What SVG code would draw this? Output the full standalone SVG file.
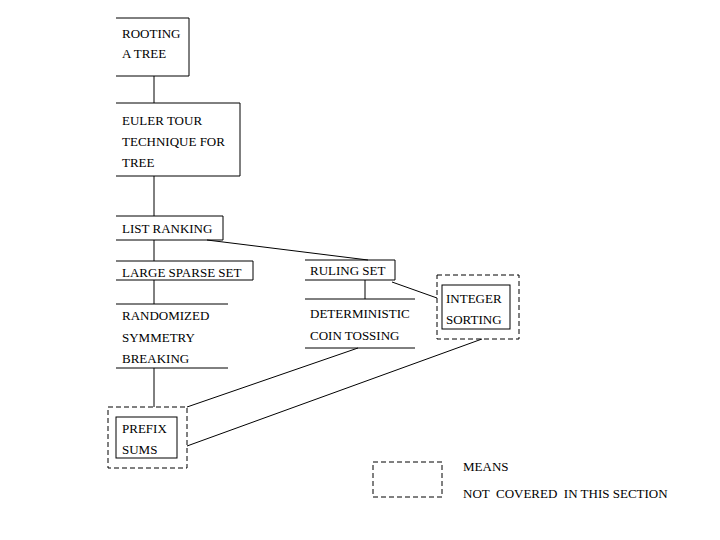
<svg xmlns="http://www.w3.org/2000/svg" width="720" height="540" viewBox="0 0 720 540">
<style>
  .box { fill: none; stroke: #000; stroke-width: 1; }
  .dash { fill: none; stroke: #000; stroke-width: 1; stroke-dasharray: 5 3; }
  .conn line { stroke: #000; stroke-width: 1; }
  text { font-family: "Liberation Serif", "Times New Roman", serif; font-size: 13px; fill: #000; }
</style>
<rect width="720" height="540" fill="#fff"/>
<g id="connectors" class="conn">
  <line x1="154" y1="76" x2="154" y2="103"/>
  <line x1="154" y1="176" x2="154" y2="216"/>
  <line x1="154" y1="240" x2="154" y2="261"/>
  <line x1="154" y1="280" x2="154" y2="304"/>
  <line x1="154" y1="368" x2="154" y2="407"/>
  <line x1="207" y1="240" x2="368" y2="260"/>
  <line x1="365" y1="280" x2="365" y2="299"/>
  <line x1="392" y1="282" x2="437" y2="298"/>
  <line x1="358" y1="348" x2="187" y2="407"/>
  <line x1="482" y1="339" x2="187" y2="446"/>
</g>
<g id="rooting">
  <path class="box" d="M116,18 H189 V76 H116"/>
  <text x="122" y="38">ROOTING</text>
  <text x="122" y="58">A TREE</text>
</g>
<g id="euler">
  <path class="box" d="M116,103 H240 V176 H116"/>
  <text x="122" y="125">EULER TOUR</text>
  <text x="122" y="146">TECHNIQUE FOR</text>
  <text x="122" y="167">TREE</text>
</g>
<g id="listranking">
  <path class="box" d="M116,216 H223 V240 H116"/>
  <text x="122" y="233">LIST RANKING</text>
</g>
<g id="largesparse">
  <path class="box" d="M116,261 H253 V280 H116"/>
  <text x="122" y="277">LARGE SPARSE SET</text>
</g>
<g id="randomized">
  <path class="box" d="M116,304 H228 M116,368 H228"/>
  <text x="122" y="320">RANDOMIZED</text>
  <text x="122" y="342">SYMMETRY</text>
  <text x="122" y="363">BREAKING</text>
</g>
<g id="rulingset">
  <path class="box" d="M305,260 H395 V280 H305"/>
  <text x="310" y="275">RULING SET</text>
</g>
<g id="deterministic">
  <path class="box" d="M305,299 H415 M305,348 H415"/>
  <text x="310" y="318">DETERMINISTIC</text>
  <text x="310" y="340">COIN TOSSING</text>
</g>
<g id="integer">
  <rect class="dash" x="437" y="275" width="82" height="64"/>
  <rect class="box" x="442" y="285" width="68" height="44"/>
  <text x="446" y="303">INTEGER</text>
  <text x="446" y="324">SORTING</text>
</g>
<g id="prefix">
  <rect class="dash" x="108" y="407" width="79" height="61"/>
  <rect class="box" x="116" y="417" width="61" height="41"/>
  <text x="122" y="433">PREFIX</text>
  <text x="122" y="454">SUMS</text>
</g>
<g id="legend">
  <rect class="dash" x="373" y="462" width="69" height="35"/>
  <text x="463" y="471">MEANS</text>
  <text x="463" y="498" xml:space="preserve">NOT  COVERED  IN THIS SECTION</text>
</g>
</svg>
